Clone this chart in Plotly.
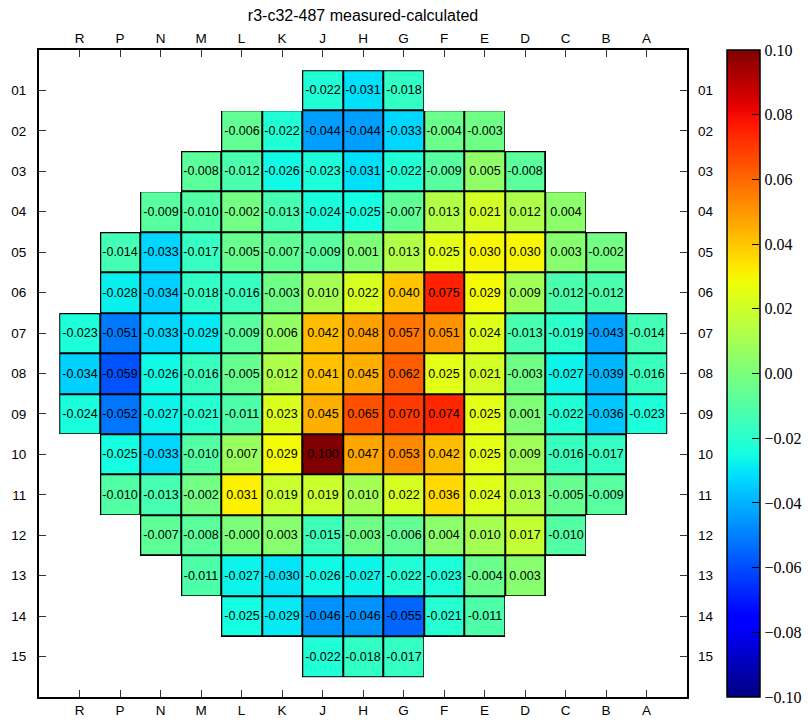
import numpy as np
import plotly.graph_objects as go

# Core map: assembly positions by column letter and row number
columns = ["R", "P", "N", "M", "L", "K", "J", "H", "G", "F", "E", "D", "C", "B", "A"]
rows = ["01", "02", "03", "04", "05", "06", "07", "08", "09", "10",
        "11", "12", "13", "14", "15"]

N = None
r01 = [N, N, N, N, N, N, -0.022, -0.031, -0.018, N, N, N, N, N, N]
r02 = [N, N, N, N, -0.006, -0.022, -0.044, -0.044, -0.033, -0.004, -0.003, N, N, N, N]
r03 = [N, N, N, -0.008, -0.012, -0.026, -0.023, -0.031, -0.022, -0.009, 0.005, -0.008, N, N, N]
r04 = [N, N, -0.009, -0.010, -0.002, -0.013, -0.024, -0.025, -0.007, 0.013, 0.021, 0.012, 0.004, N, N]
r05 = [N, -0.014, -0.033, -0.017, -0.005, -0.007, -0.009, 0.001, 0.013, 0.025, 0.030, 0.030, 0.003, -0.002, N]
r06 = [N, -0.028, -0.034, -0.018, -0.016, -0.003, 0.010, 0.022, 0.040, 0.075, 0.029, 0.009, -0.012, -0.012, N]
r07 = [-0.023, -0.051, -0.033, -0.029, -0.009, 0.006, 0.042, 0.048, 0.057, 0.051, 0.024, -0.013, -0.019, -0.043, -0.014]
r08 = [-0.034, -0.059, -0.026, -0.016, -0.005, 0.012, 0.041, 0.045, 0.062, 0.025, 0.021, -0.003, -0.027, -0.039, -0.016]
r09 = [-0.024, -0.052, -0.027, -0.021, -0.011, 0.023, 0.045, 0.065, 0.070, 0.074, 0.025, 0.001, -0.022, -0.036, -0.023]
r10 = [N, -0.025, -0.033, -0.010, 0.007, 0.029, 0.100, 0.047, 0.053, 0.042, 0.025, 0.009, -0.016, -0.017, N]
r11 = [N, -0.010, -0.013, -0.002, 0.031, 0.019, 0.019, 0.010, 0.022, 0.036, 0.024, 0.013, -0.005, -0.009, N]
r12 = [N, N, -0.007, -0.008, -0.0, 0.003, -0.015, -0.003, -0.006, 0.004, 0.010, 0.017, -0.010, N, N]
r13 = [N, N, N, -0.011, -0.027, -0.030, -0.026, -0.027, -0.022, -0.023, -0.004, 0.003, N, N, N]
r14 = [N, N, N, N, -0.025, -0.029, -0.046, -0.046, -0.055, -0.021, -0.011, N, N, N, N]
r15 = [N, N, N, N, N, N, -0.022, -0.018, -0.017, N, N, N, N, N, N]

values = [r01, r02, r03, r04, r05, r06, r07, r08, r09, r10, r11, r12, r13, r14, r15]

cbar_ticks = [-0.10, -0.08, -0.06, -0.04, -0.02, 0.00, 0.02, 0.04, 0.06, 0.08, 0.10]


def jet_scale(n=65):
    """Piecewise-linear 'jet' colour map sampled into a Plotly colorscale."""
    red = [(0, 0), (0.35, 0), (0.66, 1), (0.89, 1), (1, 0.5)]
    green = [(0, 0), (0.125, 0), (0.375, 1), (0.64, 1), (0.91, 0), (1, 0)]
    blue = [(0, 0.5), (0.11, 1), (0.34, 1), (0.65, 0), (1, 0)]
    t = np.linspace(0, 1, n)

    def chan(seg):
        xs, ys = zip(*seg)
        return np.interp(t, xs, ys)

    r, g, b = chan(red), chan(green), chan(blue)
    return [[float(ti), f"rgb({int(round(ri*255))},{int(round(gi*255))},{int(round(bi*255))})"]
            for ti, ri, gi, bi in zip(t, r, g, b)]


xs = list(range(len(columns)))
ys = list(range(1, len(rows) + 1))
labels = [["" if v is None else f"{v:.3f}" for v in row] for row in values]
present = [[None if v is None else 1 for v in row] for row in values]

fig = go.Figure()

# black backing cells: show through the gaps as cell borders
fig.add_trace(go.Heatmap(
    x=xs, y=ys, z=present,
    colorscale=[[0, "black"], [1, "black"]],
    showscale=False, hoverinfo="skip",
    xaxis="x", yaxis="y",
))

fig.add_trace(go.Heatmap(
    x=xs, y=ys, z=values,
    text=labels, texttemplate="%{text}",
    textfont=dict(family="Liberation Sans, Arial, sans-serif", size=12.5, color="black"),
    colorscale=jet_scale(), zmin=-0.10, zmax=0.10,
    xgap=2, ygap=2,
    xaxis="x2", yaxis="y2",
    colorbar=dict(
        x=(727 - 39) / 648, xanchor="left", xref="paper",
        y=0.5, yanchor="middle", len=1.0, lenmode="fraction",
        thickness=33, thicknessmode="pixels",
        outlinecolor="black", outlinewidth=1.5,
        tickvals=cbar_ticks,
        ticktext=[f"{v:.2f}".replace("-", "\u2212") for v in cbar_ticks],
        ticks="inside", ticklen=8, tickwidth=1, tickcolor="black",
        tickfont=dict(family="Liberation Serif, DejaVu Serif, serif", size=16, color="black"),
        ypad=0, xpad=0,
    ),
))

axis_font = dict(family="Liberation Sans, Arial, sans-serif", size=13.5, color="black")
common_x = dict(
    range=[-1, len(columns)], tickvals=xs, ticktext=columns,
    ticks="inside", ticklen=7, tickwidth=1, tickcolor="#333",
    showgrid=False, zeroline=False, tickfont=axis_font,
)
common_y = dict(
    range=[len(rows) + 1, 0], tickvals=ys, ticktext=rows,
    ticks="inside", ticklen=7, tickwidth=1, tickcolor="#333",
    showgrid=False, zeroline=False, tickfont=axis_font,
)

fig.update_layout(
    width=809, height=720,
    margin=dict(l=39, r=122, t=50, b=23, autoexpand=False),
    paper_bgcolor="white", plot_bgcolor="white",
    title=dict(text="r3-c32-487 measured-calculated", x=0.5, xref="paper",
               y=1 - 15 / 720, yanchor="middle",
               font=dict(family="Liberation Sans, Arial, sans-serif", size=16, color="black")),
    xaxis=dict(**common_x, side="bottom", showline=True, linecolor="black",
               linewidth=2, mirror=True, ticklabelstandoff=0),
    yaxis=dict(**common_y, side="left", showline=True, linecolor="black",
               linewidth=2, mirror=True, ticklabelstandoff=8),
    xaxis2=dict(**common_x, side="top", overlaying="x", matches="x",
                ticklabelstandoff=3),
    yaxis2=dict(**common_y, side="right", overlaying="y", matches="y",
                ticklabelstandoff=10),
)

fig.write_html("out.html")
